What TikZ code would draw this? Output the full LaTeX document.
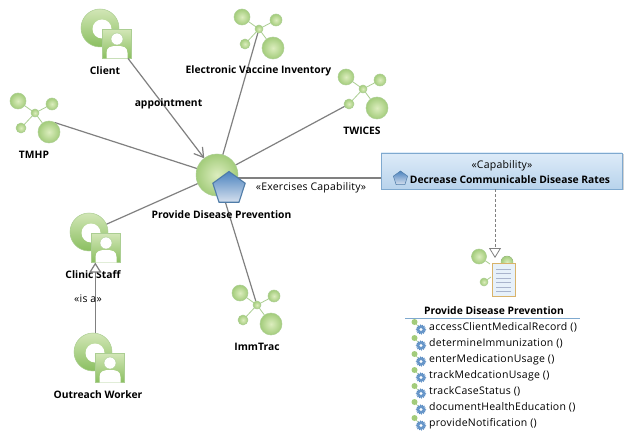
\documentclass[tikz,border=0pt]{standalone}
\usepackage{fontspec}
\setmainfont{Open Sans}
\usetikzlibrary{arrows.meta,shapes.geometric,shadows,backgrounds,calc}
\pgfdeclarelayer{edges}
\pgfsetlayers{background,edges,main}
\definecolor{edgegray}{HTML}{808080}
\definecolor{gA}{HTML}{DCEDBE}
\definecolor{gB}{HTML}{A3CC7B}
\definecolor{gC}{HTML}{D2E6B6}
\definecolor{gD}{HTML}{8ABF60}
\definecolor{gE}{HTML}{ABCE92}
\definecolor{bA}{HTML}{DDEBF8}
\definecolor{bB}{HTML}{B8D3EC}
\definecolor{bC}{HTML}{7FA9CF}
\definecolor{pA}{HTML}{4C83BF}
\definecolor{pB}{HTML}{D5E0EE}
\definecolor{pC}{HTML}{4F7CA8}
\definecolor{docedge}{HTML}{D9B36A}
\definecolor{docline}{HTML}{A9B4CC}
\tikzset{
  ball/.style={circle,inner sep=0pt,outer sep=0pt,minimum size=#1,inner color=gA,outer color=gB,draw=gE,line width=.5pt},
  twig/.style={draw=gE,line width=.8pt},
  ringicon/.style={circle,inner sep=0pt,outer sep=0pt,minimum size=38pt,top color=gC,bottom color=gD,draw=gE,line width=.5pt},
  ringhole/.style={circle,inner sep=0pt,minimum size=19pt,fill=white},
  personbox/.style={rectangle,inner sep=0pt,outer sep=0pt,minimum size=29pt,top color=gC,bottom color=gD,draw=gE,line width=.8pt},
  lbl/.style={inner sep=0pt,yshift=-.8pt,font=\fontsize{10.3}{12}\selectfont\bfseries},
  reg/.style={inner sep=0pt,yshift=-.5pt,font=\fontsize{10.5}{12}\selectfont\addfontfeatures{LetterSpace=2}},
  oplabel/.style={inner sep=0pt,anchor=west,yshift=-.8pt,font=\fontsize{10.5}{12}\selectfont\addfontfeatures{LetterSpace=2.5}},
  rel/.style={draw=edgegray,line width=1.2pt},
  pent/.style={regular polygon,regular polygon sides=5,inner sep=0pt,top color=pA,bottom color=pB,draw=pC,line width=1.1pt},
}
\newcommand{\cluster}[3]{% name, x, y
  \begin{scope}[shift={(#2,#3)}]
    \draw[twig] (0,0)--(-17,-12) (0,0)--(17,-9) (0,0)--(-14,15) (0,0)--(14,19);
    \node[ball=16pt] (#1tl) at (-17,-12) {};
    \node[ball=12pt] (#1tr) at (17,-9) {};
    \node[ball=10pt] (#1bl) at (-14,15) {};
    \node[ball=22pt] (#1br) at (14,19) {};
    \node[ball=8pt] (#1) at (0,0) {};
  \end{scope}}
\newcommand{\actoricon}[3]{% name, ring x, ring y
  \begin{scope}[shift={(#2,#3)}]
    \node[ringicon] (#1ring) at (0,0) {};
    \node[ringhole] at (2,1) {};
    \node[personbox] (#1) at (17,16) {};
    \fill[white] (6.5,30.5) -- (6.5,25) .. controls (6.5,19) and (11,18) .. (17,18) .. controls (23,18) and (27.5,19) .. (27.5,25) -- (27.5,30.5) -- cycle;
    \fill[white,draw=gE,line width=.4pt] (17,11) circle (6);
  \end{scope}}
\newcommand{\opicon}[2]{% x, y
  \begin{scope}[shift={(#1,#2)}]
    \draw[gE,line width=.6pt] (2,1)--(8,7);
    \fill[gB] (2.5,1) circle (3);
    \fill[pA!85!white] (9,8.5) circle (4.2);
    \draw[pA,line width=1pt,dash pattern=on 1pt off 1pt] (9,8.5) circle (4.6);
    \fill[white] (9,8.5) circle (1.6);
  \end{scope}}
\begin{document}
\begin{tikzpicture}[x=1pt,y=-1pt]
\useasboundingbox (0,0) rectangle (635,441);
\begin{pgfonlayer}{background}
\fill[white] (0,0) rectangle (635,441);
\end{pgfonlayer}

% hub
\node[ball=42pt] (hub) at (217,175) {};
\node[pent,minimum size=34pt] (penta) at (229,188.5) {};
\node[lbl] (hublabel) at (221.5,214) {Provide Disease Prevention};

% actors
\actoricon{client}{100}{28}
\node[lbl] (clientlabel) at (105,70) {Client};
\actoricon{clinic}{89}{232}
\node[lbl] (cliniclabel) at (93,274) {Clinic Staff};
\actoricon{outreach}{93}{352}
\node[lbl] (outreachlabel) at (98,394) {Outreach Worker};

% system clusters
\cluster{evi}{259}{29}
\node[lbl] (evilabel) at (258.5,70) {Electronic Vaccine Inventory};
\cluster{twices}{363}{89}
\node[lbl] (twiceslabel) at (362,130) {TWICES};
\cluster{tmhp}{35}{113}
\node[lbl] (tmhplabel) at (34,154) {TMHP};
\cluster{imm}{257}{305}
\node[lbl] (immlabel) at (257,346) {ImmTrac};

% capability
\node[rectangle,inner sep=0pt,minimum width=241pt,minimum height=36pt,top color=bA,bottom color=bB,draw=bC,line width=.8pt,
  drop shadow={shadow xshift=1.5pt,shadow yshift=-1.5pt,opacity=.35}] (cap) at (501.5,171) {};
\node[reg] (capstereo) at (502,165) {«Capability»};
\node[lbl] (captitle) at (510,178.5) {Decrease Communicable Disease Rates};
\node[pent,minimum size=15pt,line width=.5pt] (cappent) at (400.5,178.5) {};
\coordinate (capport) at (381,178);

% activity document
\coordinate (doctop) at (495,258);
\fill[inner color=gA,outer color=gB,draw=gE,line width=.4pt] (507,262) circle (6);
\node[ball=15pt] (actbig) at (479,256.5) {};
\node[ball=8pt] (actsmall) at (484,282) {};
\draw[twig] (actbig) -- (490,264);
\draw[twig] (actsmall) -- (491,277);
\node[rectangle,inner sep=0pt,minimum width=23pt,minimum height=33pt,fill=bA!70,draw=docedge,line width=.8pt] (doc) at (503.5,279.5) {};
\foreach \yy in {269,273.5,278,282.5,287,291}
  \draw[docline,line width=.9pt] (496,\yy) -- (511,\yy);

\node[lbl] (oplist) at (494,310) {Provide Disease Prevention};
\coordinate (ruleL) at (405,318.5);
\coordinate (ruleR) at (580,318.5);
\draw[bC,line width=.8pt] (ruleL) -- (ruleR);
\foreach \yy/\tx in {327/accessClientMedicalRecord (),343/determineImmunization (),359/enterMedicationUsage (),375/trackMedcationUsage (),391/trackCaseStatus (),407/documentHealthEducation (),423/provideNotification ()}{
  \opicon{412}{\yy-6}
  \node[oplabel] at (429,\yy) {\tx};
}

% connectors
\begin{pgfonlayer}{edges}
  \draw[rel] (evi) -- (hub);
  \draw[rel] (twicesbl) -- (hub);
  \draw[rel] (tmhpbr.60) -- (hub);
  \draw[rel] (imm) -- (hub);
  \draw[rel] (clinicring) -- (hub);
  \draw[rel] (hub.center |- capport) -- (capport);
\end{pgfonlayer}
\draw[rel,-{Straight Barb[length=9pt,width=11pt]}] (client) -- (hub);
\draw[rel,-{Triangle[open,fill=white,length=10pt,width=12pt]}] (outreachring.83) -- (outreachring.83 |- clinic.south);
\draw[draw=edgegray,line width=.8pt,dash pattern=on 3pt off 2pt,-{Triangle[open,fill=white,length=10pt,width=12pt]}] (cap.south -| doctop) -- (doctop);

% connector labels
\node[lbl] (apptlabel) at (168.5,103) {appointment};
\node[reg] (exlabel) at (311,187) {«Exercises Capability»};
\node[reg] (isalabel) at (88,298) {«is a»};
\end{tikzpicture}
\end{document}
